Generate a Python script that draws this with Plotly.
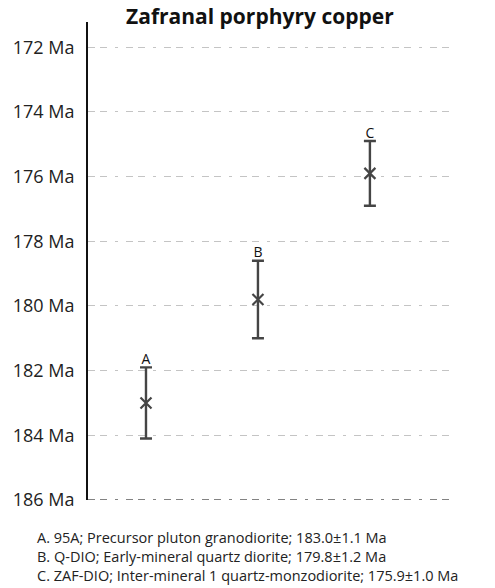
import plotly.graph_objects as go

# Zircon U-Pb ages, Zafranal porphyry copper intrusions
labels = ["A", "B", "C"]
ages = [183.0, 179.8, 175.9]
errors = [1.1, 1.2, 1.0]
x_pos = [1, 2, 3]

tick_vals = [172, 174, 176, 178, 180, 182, 184, 186]
tick_text = [f"{v} Ma" for v in tick_vals]

captions = [
    "A. 95A; Precursor pluton granodiorite; 183.0\u00b11.1 Ma",
    "B. Q-DIO; Early-mineral quartz diorite; 179.8\u00b11.2 Ma",
    "C. ZAF-DIO; Inter-mineral 1 quartz-monzodiorite; 175.9\u00b11.0 Ma",
]

FONT = "Open Sans, sans-serif"
BAR = "#454545"

fig = go.Figure()

fig.add_trace(go.Scatter(
    x=x_pos, y=ages,
    mode="markers",
    marker=dict(symbol="x-thin", size=11, line=dict(width=2.2, color=BAR), color=BAR),
    error_y=dict(type="data", array=errors, visible=True, color=BAR,
                 thickness=2.4, width=6),
    showlegend=False, hoverinfo="skip",
))

# sample letters above each upper error cap
fig.add_trace(go.Scatter(
    x=x_pos, y=[a - e for a, e in zip(ages, errors)],
    mode="text", text=labels, textposition="top center",
    textfont=dict(family=FONT, size=14, color="#111"),
    showlegend=False, hoverinfo="skip",
))

grid_dash = "7px,5px,7px,8px,3px,8px"

# darker dashed baseline at the oldest age
fig.add_shape(type="line", xref="paper", yref="y", x0=0, x1=1,
              y0=tick_vals[-1], y1=tick_vals[-1],
              line=dict(color="#5a5a5a", width=1.6, dash=grid_dash), layer="above")

fig.update_layout(
    width=495, height=588,
    margin=dict(l=88, r=40, t=22, b=88),
    paper_bgcolor="white", plot_bgcolor="white",
    title=dict(text="<b>Zafranal porphyry copper</b>", x=0.525, xanchor="center",
               y=0.972, yanchor="middle",
               font=dict(family=FONT, size=21, color="#111")),
    xaxis=dict(range=[0.482, 3.76], showgrid=False, zeroline=False,
               showticklabels=False, showline=False, fixedrange=True),
    yaxis=dict(range=[186, 171.22], tickvals=tick_vals,
               ticktext=tick_text, showgrid=True, gridcolor="#c4c4c4",
               gridwidth=1.2, griddash=grid_dash, zeroline=False,
               showline=True, linecolor="#111", linewidth=2,
               ticks="", ticklen=0, ticklabelstandoff=8,
               tickfont=dict(family=FONT, size=18, color="#222")),
)

# sample key below the plot, one block of three lines
fig.add_annotation(text="<br>".join(captions), xref="paper", yref="paper",
                   x=(35 - 88) / 367, xanchor="left",
                   y=(500 - 556) / 478, yanchor="middle",
                   showarrow=False, align="left",
                   font=dict(family=FONT, size=14.5, color="#222"))

fig.write_html("out.html")
